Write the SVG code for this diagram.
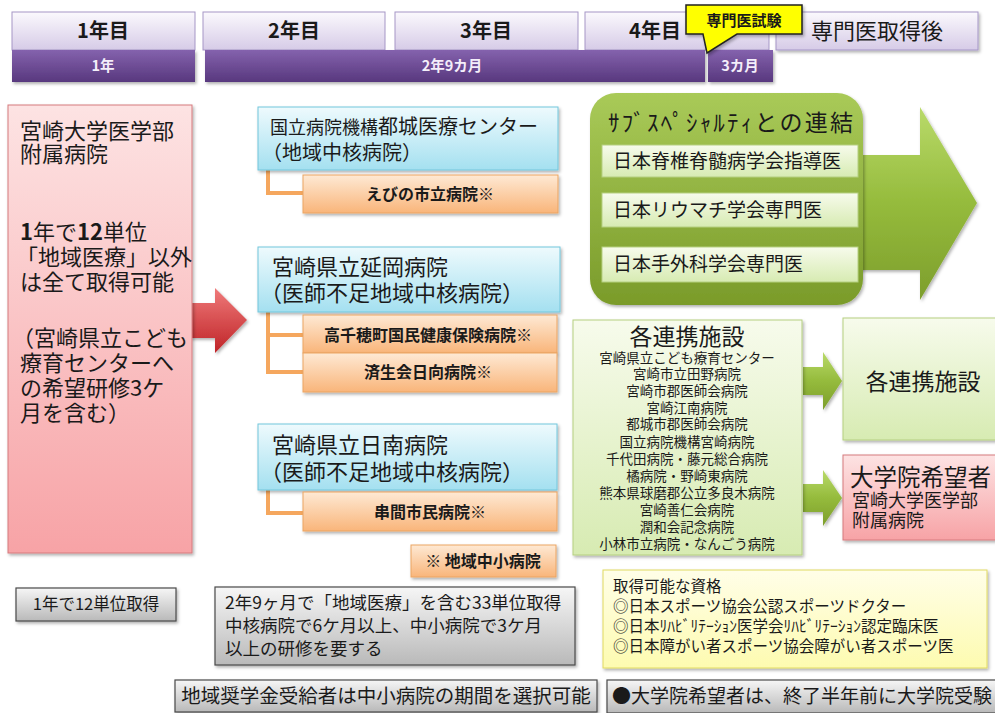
<svg xmlns="http://www.w3.org/2000/svg" width="995" height="713" viewBox="0 0 995 713">
<defs>
<linearGradient id="gHead" x1="0" y1="0" x2="0" y2="1"><stop offset="0" stop-color="#fbf9fd"/><stop offset="1" stop-color="#d6cbe7"/></linearGradient>
<linearGradient id="gPurple" x1="0" y1="0" x2="0" y2="1"><stop offset="0" stop-color="#8462ad"/><stop offset="1" stop-color="#58387e"/></linearGradient>
<linearGradient id="gPink" x1="0" y1="0" x2="0" y2="1"><stop offset="0" stop-color="#fde3e3"/><stop offset="1" stop-color="#f7a3a6"/></linearGradient>
<linearGradient id="gBlue" x1="0" y1="0" x2="0" y2="1"><stop offset="0" stop-color="#eefafd"/><stop offset="1" stop-color="#a4e0f0"/></linearGradient>
<linearGradient id="gOrange" x1="0" y1="0" x2="0" y2="1"><stop offset="0" stop-color="#fee9d4"/><stop offset="1" stop-color="#f9b57a"/></linearGradient>
<linearGradient id="gGreen" x1="0" y1="0" x2="0" y2="1"><stop offset="0" stop-color="#a9ca58"/><stop offset="1" stop-color="#7a9b2a"/></linearGradient>
<linearGradient id="gArrowG" x1="0" y1="0" x2="0" y2="1"><stop offset="0" stop-color="#b9da6a"/><stop offset="0.5" stop-color="#95bb3c"/><stop offset="1" stop-color="#7d9e2c"/></linearGradient>
<linearGradient id="gLight" x1="0" y1="0" x2="0" y2="1"><stop offset="0" stop-color="#f7fbec"/><stop offset="1" stop-color="#d7ebb2"/></linearGradient>
<linearGradient id="gGray" x1="0" y1="0" x2="0" y2="1"><stop offset="0" stop-color="#f6f6f6"/><stop offset="1" stop-color="#b9b9b9"/></linearGradient>
<linearGradient id="gRed" x1="0" y1="0" x2="0" y2="1"><stop offset="0" stop-color="#ef7a7a"/><stop offset="1" stop-color="#bf2327"/></linearGradient>
<linearGradient id="gYellow" x1="0" y1="0" x2="0" y2="1"><stop offset="0" stop-color="#fffee8"/><stop offset="1" stop-color="#fdfbb0"/></linearGradient>
<filter id="sh" x="-10%" y="-10%" width="125%" height="130%"><feDropShadow dx="1.5" dy="2" stdDeviation="1.5" flood-color="#000" flood-opacity="0.3"/></filter>
</defs>
<style>
text{font-family:"Noto Sans CJK JP","Noto Sans",sans-serif;fill:#1a1a1a}
.head{fill:url(#gHead);stroke:#a596c6;stroke-width:1}
.purple{fill:url(#gPurple)}
.wt{fill:#f4eefa;font-weight:bold;font-size:14.5px}
.hd{font-size:20px;font-weight:bold;text-anchor:middle}
.blue{fill:url(#gBlue);stroke:#73c6dc;stroke-width:1}
.orange{fill:url(#gOrange);stroke:#eba562;stroke-width:1}
.ot{font-size:16px;font-weight:bold;text-anchor:middle}
.conn{fill:none;stroke:#f5a75e;stroke-width:4}
.gray{fill:url(#gGray);stroke:#4a4a4a;stroke-width:1.2}
.light{fill:url(#gLight);stroke:#b5cf80;stroke-width:1}
.lst{font-size:13.5px;text-anchor:middle}
.lb{font-size:22px}
</style>

<g id="header">
<g id="h1"><rect class="head" x="12" y="12" width="183" height="38"/><text class="hd" x="103" y="38">1年目</text></g>
<g id="h2"><rect class="head" x="203" y="12" width="182" height="38"/><text class="hd" x="294" y="38">2年目</text></g>
<g id="h3"><rect class="head" x="395" y="12" width="183" height="38"/><text class="hd" x="486" y="38">3年目</text></g>
<g id="h4"><rect class="head" x="585" y="12" width="184" height="38"/><text class="hd" x="655" y="38">4年目</text></g>
<g id="h5"><rect class="head" x="776" y="12" width="202" height="38" filter="url(#sh)"/><text x="877" y="39" font-size="22" text-anchor="middle">専門医取得後</text></g>
<g id="p1"><rect class="purple" x="12" y="50" width="183" height="32" filter="url(#sh)"/><text class="wt" x="103" y="71" text-anchor="middle">1年</text></g>
<g id="p2"><rect class="purple" x="205" y="50" width="500" height="32" filter="url(#sh)"/><text class="wt" x="452" y="71" text-anchor="middle">2年9カ月</text></g>
<g id="p3"><rect class="purple" x="708" y="50" width="65" height="32" filter="url(#sh)"/><text class="wt" x="740" y="71" text-anchor="middle">3カ月</text></g>
<g id="callout"><path d="M686,5 H802 V34 H737 L707,53 L703,34 H686 Z" fill="#ffff00" stroke="#222" stroke-width="1.5" filter="url(#sh)"/><text x="744" y="26" font-size="15" font-weight="bold" text-anchor="middle">専門医試験</text></g>
</g>

<g id="connectors">
<path class="conn" d="M268,170 V193 H303"/>
<path class="conn" d="M268,312 V372 H303 M268,335 H303"/>
<path class="conn" d="M268,490 V513 H303"/>
<path id="redArrow" d="M190,303 H215 V288 L247,320 L215,353 V338 H190 Z" fill="url(#gRed)" filter="url(#sh)"/>
<path id="bigArrow" d="M850,155 H920 V107 L977,203 L920,300 V270 H850 Z" fill="url(#gArrowG)" filter="url(#sh)"/>
<path id="arrowA" d="M803,367 H823 V352 L842,381 L823,410 V395 H803 Z" fill="url(#gArrowG)" filter="url(#sh)"/>
<path id="arrowB" d="M803,484 H823 V470 L842,498 L823,526 V512 H803 Z" fill="url(#gArrowG)" filter="url(#sh)"/>
</g>

<g id="univ">
<rect x="8" y="105" width="184" height="448" fill="url(#gPink)" stroke="#d67a7e" stroke-width="1" filter="url(#sh)"/>
<text class="lb" x="20" y="139">宮崎大学医学部</text>
<text class="lb" x="20" y="162">附属病院</text>
<text class="lb" x="20" y="240"><tspan font-weight="bold">1</tspan>年で<tspan font-weight="bold">12</tspan>単位</text>
<text class="lb" x="16" y="265" font-size="21.5">「地域医療」以外</text>
<text class="lb" x="20" y="290">は全て取得可能</text>
<text class="lb" x="12" y="346">（宮崎県立こども</text>
<text class="lb" x="20" y="371">療育センターへ</text>
<text class="lb" x="20" y="396">の希望研修3ケ</text>
<text class="lb" x="20" y="421">月を含む）</text>
</g>

<g id="miyakonojo">
<rect class="blue" x="258" y="107" width="300" height="63" filter="url(#sh)"/>
<text x="270" y="134"><tspan font-size="18">国立病院機構</tspan><tspan font-size="20">都城医療センター</tspan></text>
<text x="262" y="160" font-size="20">（地域中核病院）</text>
</g>
<g id="ebino"><rect class="orange" x="303" y="175" width="255" height="38" filter="url(#sh)"/><text class="ot" x="430" y="200">えびの市立病院※</text></g>

<g id="nobeoka">
<rect class="blue" x="258" y="247" width="302" height="65" filter="url(#sh)"/>
<text x="272" y="275" font-size="22">宮崎県立延岡病院</text>
<text x="260" y="301" font-size="22">（医師不足地域中核病院）</text>
</g>
<g id="takachiho"><rect class="orange" x="303" y="315" width="254" height="38" filter="url(#sh)"/><text class="ot" x="428" y="341">高千穂町国民健康保険病院※</text></g>
<g id="hyuga"><rect class="orange" x="303" y="353" width="254" height="39" filter="url(#sh)"/><text class="ot" x="428" y="378">済生会日向病院※</text></g>

<g id="nichinan">
<rect class="blue" x="258" y="424" width="299" height="66" filter="url(#sh)"/>
<text x="272" y="453" font-size="22">宮崎県立日南病院</text>
<text x="260" y="480" font-size="22">（医師不足地域中核病院）</text>
</g>
<g id="kushima"><rect class="orange" x="303" y="492" width="254" height="39" filter="url(#sh)"/><text class="ot" x="430" y="518">串間市民病院※</text></g>
<g id="note"><rect class="orange" x="411" y="545" width="145" height="32" filter="url(#sh)"/><text class="ot" x="483" y="567">※ 地域中小病院</text></g>

<g id="subspecialty">
<rect x="590" y="93" width="273" height="212" rx="26" fill="url(#gGreen)" filter="url(#sh)"/>
<text x="608" y="131" font-size="23" textLength="245" lengthAdjust="spacing">ｻﾌﾞｽﾍﾟｼｬﾙﾃｨとの連結</text>
<rect class="light" x="602" y="145" width="256" height="32"/>
<text x="613" y="168" font-size="19">日本脊椎脊髄病学会指導医</text>
<rect class="light" x="602" y="193" width="256" height="34"/>
<text x="613" y="217" font-size="19">日本リウマチ学会専門医</text>
<rect class="light" x="602" y="247" width="256" height="35"/>
<text x="613" y="271" font-size="19">日本手外科学会専門医</text>
</g>

<g id="partners">
<rect class="light" x="573" y="320" width="229" height="235" filter="url(#sh)"/>
<text x="687" y="345" font-size="23" text-anchor="middle">各連携施設</text>
<text class="lst" x="687" y="363">宮崎県立こども療育センター</text>
<text class="lst" x="687" y="379">宮崎市立田野病院</text>
<text class="lst" x="687" y="396">宮崎市郡医師会病院</text>
<text class="lst" x="687" y="413">宮崎江南病院</text>
<text class="lst" x="687" y="429">都城市郡医師会病院</text>
<text class="lst" x="687" y="447">国立病院機構宮崎病院</text>
<text class="lst" x="687" y="464">千代田病院・藤元総合病院</text>
<text class="lst" x="687" y="481">橘病院・野崎東病院</text>
<text class="lst" x="687" y="498">熊本県球磨郡公立多良木病院</text>
<text class="lst" x="687" y="515">宮崎善仁会病院</text>
<text class="lst" x="687" y="532">潤和会記念病院</text>
<text class="lst" x="687" y="549">小林市立病院・なんごう病院</text>
</g>

<g id="partners2">
<rect class="light" x="843" y="318" width="160" height="122" filter="url(#sh)"/>
<text x="923" y="390" font-size="23" text-anchor="middle">各連携施設</text>
</g>

<g id="graduate">
<rect x="843" y="455" width="160" height="85" fill="url(#gPink)" stroke="#d67a7e" stroke-width="1" filter="url(#sh)"/>
<text x="850" y="486" font-size="23.5">大学院希望者</text>
<text x="852" y="507" font-size="18">宮崎大学医学部</text>
<text x="852" y="527" font-size="18">附属病院</text>
</g>

<g id="summary1"><rect class="gray" x="16" y="588" width="160" height="33" filter="url(#sh)"/><text x="96" y="610" font-size="16.5" text-anchor="middle">1年で12単位取得</text></g>
<g id="summary2"><rect class="gray" x="215" y="587" width="360" height="78" filter="url(#sh)"/>
<text x="225" y="609" font-size="17.5">2年9ヶ月で「地域医療」を含む33単位取得</text>
<text x="225" y="632" font-size="17.5">中核病院で6ケ月以上、中小病院で3ケ月</text>
<text x="225" y="655" font-size="17.5">以上の研修を要する</text></g>
<g id="summary3"><rect class="gray" x="175" y="680" width="422" height="32" filter="url(#sh)"/><text x="386" y="703" font-size="19.5" text-anchor="middle">地域奨学金受給者は中小病院の期間を選択可能</text></g>
<g id="qualifications"><rect x="603" y="570" width="384" height="98" fill="url(#gYellow)" stroke="#e0da60" stroke-width="1" filter="url(#sh)"/>
<text x="613" y="592" font-size="15.5">取得可能な資格</text>
<text x="613" y="612" font-size="15.5">◎日本スポーツ協会公認スポーツドクター</text>
<text x="613" y="632" font-size="15.5">◎日本ﾘﾊﾋﾞﾘﾃｰｼｮﾝ医学会ﾘﾊﾋﾞﾘﾃｰｼｮﾝ認定臨床医</text>
<text x="613" y="652" font-size="15.5">◎日本障がい者スポーツ協会障がい者スポーツ医</text></g>
<g id="summary4"><rect class="gray" x="607" y="680" width="395" height="33" filter="url(#sh)"/><text x="612" y="703" font-size="19">●大学院希望者は、終了半年前に大学院受験</text></g>
</svg>
